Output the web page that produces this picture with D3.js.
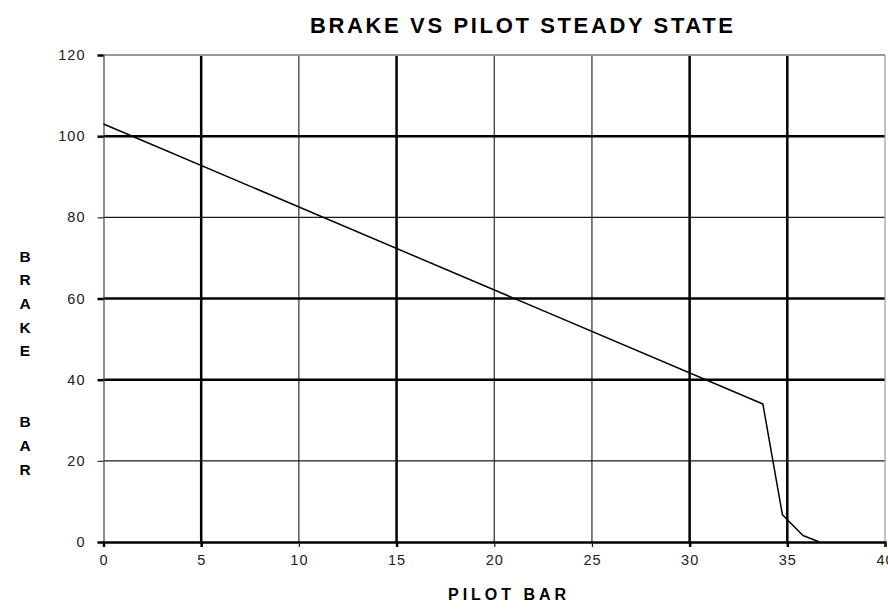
<!DOCTYPE html>
<html>
<head>
<meta charset="utf-8">
<script src="https://cdn.jsdelivr.net/npm/d3@7"></script>
<style>
  html, body { margin: 0; padding: 0; background: #fff; overflow: hidden; }
  svg { display: block; }
</style>
</head>
<body>
<svg id="chart" width="888" height="609"></svg>
<script>
// ---- data ----
const pilotBar = [0, 33.75, 34.75, 35.8, 36.65];
const brakeBar = [103, 34, 6.7, 1.6, 0];
const xTicks = [0, 5, 10, 15, 20, 25, 30, 35, 40];
const yTicks = [0, 20, 40, 60, 80, 100, 120];
const titleText = "BRAKE VS PILOT STEADY STATE";
const xLabelText = "PILOT BAR";
const yLabelLines = ["B", "R", "A", "K", "E", "", "", "B", "A", "R"];

// ---- styles (rendering weights of gridlines) ----
const thickX = new Set([5, 15, 30, 35]);
const thickY = new Set([0, 40, 60, 100, 120]);

(function () {
const svg = d3.select("#chart");
const mLeft = 103.5, mRight = 885, mTop = 55, mBottom = 542;

const x = d3.scaleLinear().domain([0, 40]).range([mLeft, mRight]);
const y = d3.scaleLinear().domain([0, 120]).range([mBottom, mTop]);

const font = "'Liberation Sans', Arial, Helvetica, sans-serif";
const thinCol = "#1a1a1a";

// vertical gridlines
svg.append("g").selectAll("line")
  .data(xTicks.filter(d => d > 0 && d < 40))
  .join("line")
  .attr("x1", d => x(d)).attr("x2", d => x(d))
  .attr("y1", y(120)).attr("y2", y(0))
  .attr("stroke", d => thickX.has(d) ? "#000" : thinCol)
  .attr("stroke-width", d => thickX.has(d) ? 2.5 : 1.1);

// horizontal gridlines
svg.append("g").selectAll("line")
  .data(yTicks.filter(d => d > 0 && d < 120))
  .join("line")
  .attr("x1", x(0)).attr("x2", x(40))
  .attr("y1", d => y(d)).attr("y2", d => y(d))
  .attr("stroke", d => thickY.has(d) ? "#000" : thinCol)
  .attr("stroke-width", d => thickY.has(d) ? 2.5 : 1.1);

// plot border: top & right gray
svg.append("line")
  .attr("x1", x(0)).attr("x2", x(40)).attr("y1", y(120)).attr("y2", y(120))
  .attr("stroke", "#999").attr("stroke-width", 2);
svg.append("line")
  .attr("x1", x(40)).attr("x2", x(40)).attr("y1", y(120)).attr("y2", y(0))
  .attr("stroke", "#999").attr("stroke-width", 1.2);

// left axis
const yAxis = d3.axisLeft(y).tickValues(yTicks).tickSize(6).tickPadding(12)
  .tickFormat(d3.format("d"));
const gy = svg.append("g").attr("transform", `translate(${x(0)},0)`).call(yAxis);
gy.select(".domain").attr("stroke", "#444").attr("stroke-width", 1.2);
gy.selectAll(".tick line")
  .attr("stroke", d => thickY.has(d) ? "#000" : thinCol)
  .attr("stroke-width", d => thickY.has(d) ? 2.5 : 1.1);
gy.selectAll(".tick text")
  .attr("font-family", font).attr("font-size", 14.5)
  .attr("letter-spacing", 1).attr("fill", "#222");

// bottom axis
const xAxis = d3.axisBottom(x).tickValues(xTicks).tickSize(5).tickPadding(8)
  .tickFormat(d3.format("d"));
const gx = svg.append("g").attr("transform", `translate(0,${y(0)})`).call(xAxis);
gx.select(".domain").attr("stroke", "#000").attr("stroke-width", 2.5);
gx.selectAll(".tick line")
  .attr("stroke", d => thickX.has(d) || d === 0 ? "#000" : thinCol)
  .attr("stroke-width", d => thickX.has(d) ? 2.5 : 1.2);
gx.selectAll(".tick text")
  .attr("font-family", font).attr("font-size", 14.5)
  .attr("letter-spacing", 1).attr("fill", "#222");

// data line
const line = d3.line().x(d => x(d[0])).y(d => y(d[1]));
svg.append("path")
  .datum(pilotBar.map((p, i) => [p, brakeBar[i]]))
  .attr("d", line)
  .attr("fill", "none")
  .attr("stroke", "#000")
  .attr("stroke-width", 1.5)
  .attr("stroke-linejoin", "round");

// title
svg.append("text")
  .attr("x", 310).attr("y", 32.5)
  .attr("font-family", font).attr("font-weight", "bold").attr("font-size", 22)
  .attr("textLength", 423).attr("lengthAdjust", "spacing")
  .attr("fill", "#000")
  .text(titleText);

// x label
svg.append("text")
  .attr("x", 448).attr("y", 600)
  .attr("font-family", font).attr("font-weight", "bold").attr("font-size", 16)
  .attr("textLength", 118).attr("lengthAdjust", "spacing")
  .attr("fill", "#000")
  .text(xLabelText);

// y label (stacked letters)
svg.append("g").selectAll("text")
  .data(yLabelLines)
  .join("text")
  .attr("x", 25)
  .attr("y", (d, i) => 256 + i * 23.7)
  .attr("dy", "0.36em")
  .attr("text-anchor", "middle")
  .attr("font-family", font).attr("font-weight", "bold").attr("font-size", 15.5)
  .attr("fill", "#000")
  .text(d => d);
})();
</script>
</body>
</html>
